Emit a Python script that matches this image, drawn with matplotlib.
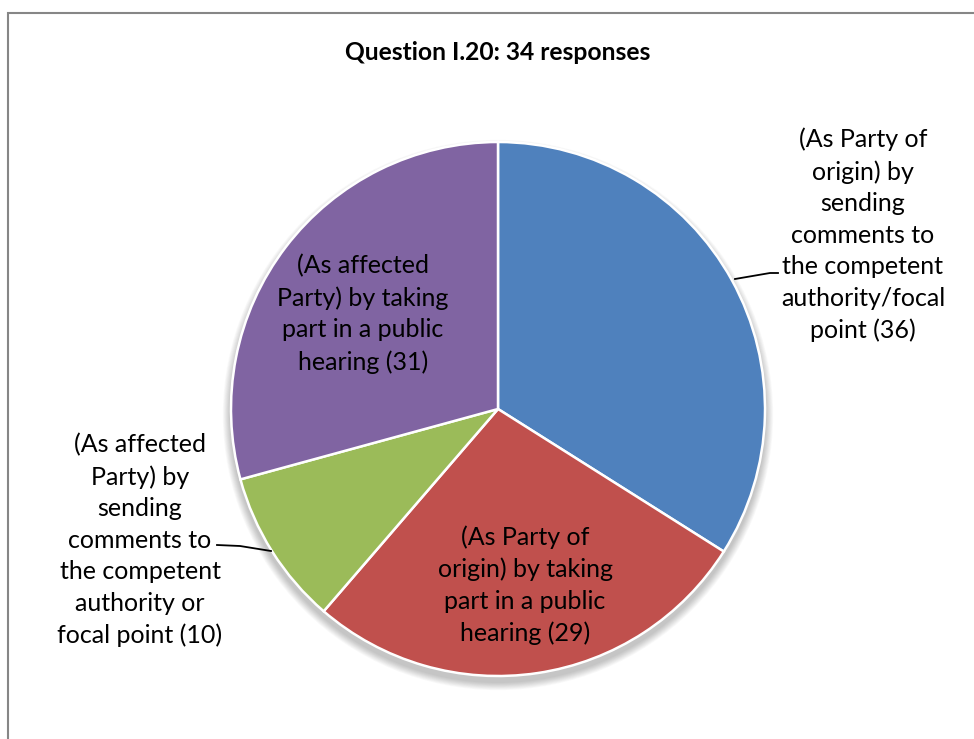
import matplotlib.pyplot as plt
from matplotlib.patches import Circle, Rectangle

plt.rcParams['font.family'] = ['Lato', 'DejaVu Sans']

title = 'Question I.20: 34 responses'
labels = [
    '(As Party of\norigin) by\nsending\ncomments to\nthe competent\nauthority/focal\npoint (36)',
    '(As Party of\norigin) by taking\npart in a public\nhearing (29)',
    '(As affected\nParty) by\nsending\ncomments to\nthe competent\nauthority or\nfocal point (10)',
    '(As affected\nParty) by taking\npart in a public\nhearing (31)',
]
values = [36, 29, 10, 31]
colors = ['#4F81BD', '#C0504D', '#9BBB59', '#8064A2']

W, H = 974, 739
fig = plt.figure(figsize=(W / 100, H / 100), dpi=100)
ax = fig.add_axes([0, 0, 1, 1])

def py(y):
    # pixel row (top-down) -> data y
    return H - y

# frame (right and bottom run off the picture)
ax.add_patch(Rectangle((8, py(H + 20)), W + 20, H + 7, fill=False,
                       edgecolor='#868686', linewidth=1.5))

cx, cy, r = 498, py(409), 267

# soft shadow under the pie
for i in range(10):
    ax.add_patch(Circle((cx, cy - 6), r + 1 + i * 0.8, color='black',
                        alpha=0.025, linewidth=0, zorder=1))

ax.pie(values, colors=colors, startangle=90, counterclock=False,
       center=(cx, cy), radius=r, frame=True,
       wedgeprops=dict(edgecolor='white', linewidth=1.8, zorder=2))
ax.set_xlim(0, W)
ax.set_ylim(0, H)
ax.set_aspect('equal')
ax.axis('off')

ax.text(498, py(52), title, ha='center', va='center', fontsize=17.7,
        fontweight='bold')

fs = 18
pos = [(863, 235), (525, 585), (140, 540), (363, 314)]
for lab, (x, y) in zip(labels, pos):
    ax.text(x, py(y), lab, ha='center', va='center', fontsize=fs,
            linespacing=1.45, zorder=5)

# leader lines
ax.plot([735, 770, 778], [py(279), py(273), py(273)], color='black', lw=1.3, zorder=4)
ax.plot([217, 240, 271], [py(545), py(546), py(551)], color='black', lw=1.3, zorder=4)

fig.savefig('out.png', dpi=100)
